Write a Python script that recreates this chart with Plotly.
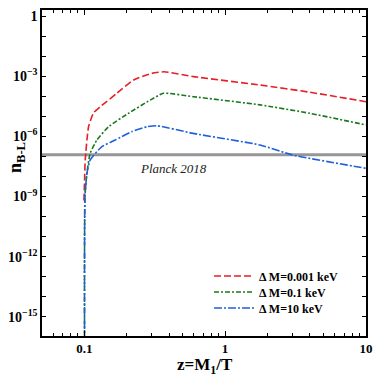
import plotly.graph_objects as go
import numpy as np

# ---- data ----
z_red = [0.0995, 0.1005, 0.1016, 0.1073, 0.1164, 0.1299, 0.1706, 0.224, 0.302, 0.369, 0.596, 1.77, 4.0, 10.0]
n_red = [10**-9.2, 10**-8.2, 10**-7.17, 10**-5.52, 10**-4.83, 10**-4.52, 10**-3.85, 10**-3.19, 10**-2.86, 10**-2.78,
         10**-3.02, 10**-3.44, 10**-3.80, 10**-4.27]

z_green = [0.1005, 0.1012, 0.1045, 0.1103, 0.1230, 0.1486, 0.206, 0.294, 0.365, 0.593, 1.77, 4.0, 10.0]
n_green = [1e-17, 10**-9.0, 10**-7.82, 10**-6.83, 10**-6.18, 10**-5.52, 10**-4.85, 10**-4.19, 10**-3.85,
           10**-4.02, 10**-4.43, 10**-4.85, 10**-5.43]

z_blue = [0.1005, 0.1012, 0.1045, 0.1103, 0.1335, 0.166, 0.218, 0.278, 0.328, 0.593, 1.77, 3.03, 10.0]
n_blue = [1e-17, 10**-9.0, 10**-7.84, 10**-7.17, 10**-6.51, 10**-6.18, 10**-5.76, 10**-5.52, 10**-5.47,
          10**-5.85, 10**-6.43, 10**-6.93, 10**-7.59]

planck_value = 1.2e-7
z_span = [0.05, 10.0]

series_names = ["Δ M=0.001 keV", "Δ M=0.1 keV", "Δ M=10 keV"]

y_tick_vals = [10.0**(-k) for k in range(0, 17)]
y_tick_text = ["<b>1</b>" if k == 0 else ("<b>10<sup>−%d</sup></b>" % k if k % 3 == 0 else "") for k in range(0, 17)]
x_tick_vals = [0.1, 1, 10]
x_tick_text = ["<b>0.1</b>", "<b>1</b>", "<b>10</b>"]
x_minor_vals = [0.06, 0.07, 0.08, 0.09, 0.2, 0.3, 0.4, 0.5, 0.6, 0.7, 0.8, 0.9, 2, 3, 4, 5, 6, 7, 8, 9]

FONT = "Liberation Serif"
L, R, T, B = 42, 8, 10, 41
W, H = 374, 377
pw, ph = W - L - R, H - T - B

def px_x(px):
    return (px - L) / pw

def px_y(py):
    return ((H - B) - py) / ph

fig = go.Figure()
fig.add_trace(go.Scatter(x=z_span, y=[planck_value, planck_value], mode="lines",
                         line=dict(color="rgb(150,150,150)", width=3), showlegend=False, hoverinfo="skip"))
fig.add_trace(go.Scatter(x=z_red, y=n_red, mode="lines", name="<b>" + series_names[0] + "</b>",
                         legend="legend",
                         line=dict(color="rgb(232,30,40)", width=1.6, dash="7px,3px",
                                   shape="spline", smoothing=0.5)))
fig.add_trace(go.Scatter(x=z_green, y=n_green, mode="lines", name="<b>" + series_names[1] + "</b>",
                         legend="legend2",
                         line=dict(color="rgb(25,120,30)", width=1.6, dash="5px,2px,2px,2px",
                                   shape="spline", smoothing=0.5)))
fig.add_trace(go.Scatter(x=z_blue, y=n_blue, mode="lines", name="<b>" + series_names[2] + "</b>",
                         legend="legend3",
                         line=dict(color="rgb(30,95,220)", width=1.6, dash="8px,2px,2px,2px",
                                   shape="spline", smoothing=0.5)))

fig.add_annotation(x=np.log10(0.43), y=np.log10(10**-7.58), text="<i>Planck 2018</i>", showarrow=False,
                   font=dict(family=FONT, size=13, color="#222"), xref="x", yref="y")
# axis titles (placed in pixels converted to paper units)
fig.add_annotation(x=px_x(205), y=px_y(366), xref="paper", yref="paper",
                   xanchor="center", yanchor="middle", text="<b>z=M<sub>1</sub>/T</b>",
                   showarrow=False, font=dict(family=FONT, size=17, color="black"))
fig.add_annotation(x=px_x(16), y=px_y(158), xref="paper", yref="paper",
                   xanchor="center", yanchor="middle", text="<b>n<sub>B-L</sub></b>",
                   showarrow=False, textangle=-90, font=dict(family=FONT, size=18, color="black"))

fig.update_xaxes(type="log", range=[-1.30, 1.0005], tickvals=x_tick_vals, ticktext=x_tick_text,
                 ticks="inside", ticklen=5, tickwidth=1, tickcolor="black",
                 minor=dict(tickvals=x_minor_vals, ticks="inside", ticklen=3, tickcolor="black"),
                 showline=True, linecolor="black", linewidth=1.5, mirror="allticks", showgrid=False,
                 zeroline=False, automargin=False,
                 tickfont=dict(family=FONT, size=13, color="black"))
fig.update_yaxes(type="log", range=[-15.95, 0.3], tickvals=y_tick_vals, ticktext=y_tick_text,
                 ticks="inside", ticklen=4, tickwidth=1, tickcolor="black",
                 showline=True, linecolor="black", linewidth=1.5, mirror="allticks", showgrid=False,
                 zeroline=False, automargin=False,
                 tickfont=dict(family=FONT, size=14, color="black"))

leg_common = dict(xanchor="left", yanchor="middle", bgcolor="rgba(0,0,0,0)",
                  font=dict(family=FONT, size=12, color="black"), itemwidth=40, borderwidth=0)
fig.update_layout(width=W, height=H, margin=dict(l=L, r=R, t=T, b=B),
                  paper_bgcolor="white", plot_bgcolor="white",
                  font=dict(family=FONT, color="black"),
                  legend=dict(x=px_x(209), y=px_y(276), **leg_common),
                  legend2=dict(x=px_x(209), y=px_y(292), **leg_common),
                  legend3=dict(x=px_x(209), y=px_y(308), **leg_common),
                  )

fig.write_html("out.html", post_script="document.body.style.margin='0px';",
               config={"displayModeBar": False})
